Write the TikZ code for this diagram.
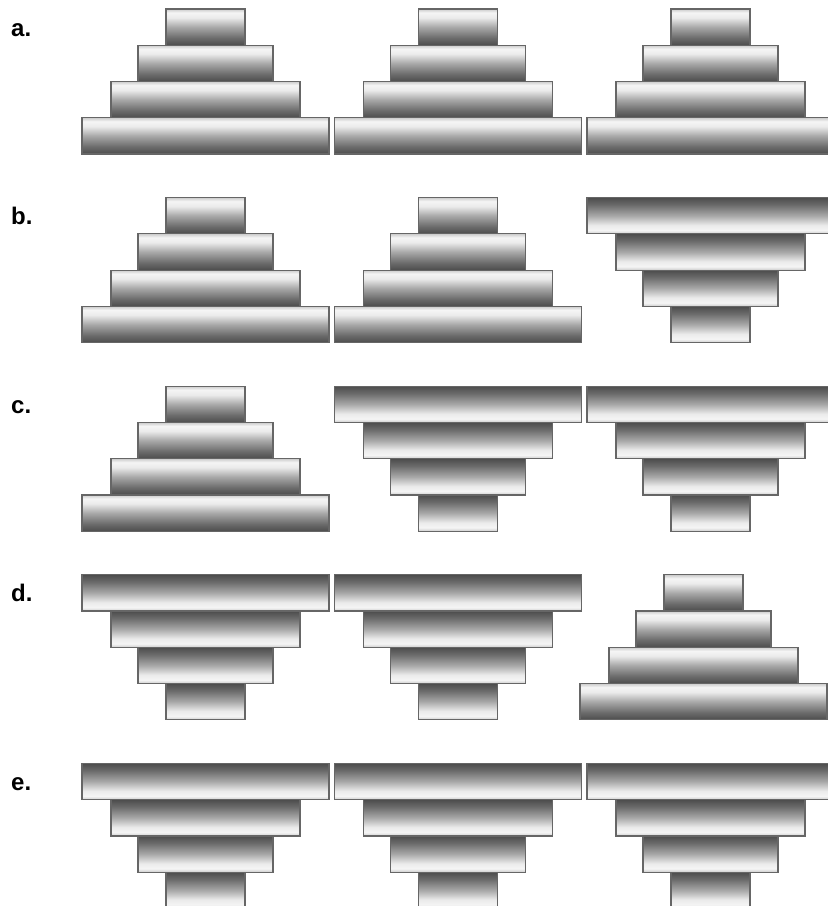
\documentclass[tikz,border=0pt]{standalone}
\usepackage{fontspec}
\setmainfont{Liberation Sans}
\definecolor{gA}{gray}{0.30}
\definecolor{gB}{gray}{0.42}
\definecolor{gC}{gray}{0.66}
\definecolor{gF}{gray}{0.92}
\definecolor{gD}{gray}{0.96}
\definecolor{gE}{gray}{0.80}
\definecolor{edgegray}{gray}{0.40}
\pgfdeclareverticalshading{barup}{100bp}{color(0bp)=(gA); color(25bp)=(gA); color(35bp)=(gB); color(50bp)=(gC); color(63bp)=(gF); color(70bp)=(gD); color(75bp)=(gE); color(100bp)=(gE)}
\pgfdeclareverticalshading{bardown}{100bp}{color(0bp)=(gE); color(25bp)=(gE); color(30bp)=(gD); color(37bp)=(gF); color(50bp)=(gC); color(65bp)=(gB); color(75bp)=(gA); color(100bp)=(gA)}
\tikzset{
  barbase/.style={rectangle, inner sep=0pt, outer sep=0pt, minimum height=36.25pt, draw=edgegray, line width=1.2pt},
  barupst/.style={barbase, shading=barup},
  bardownst/.style={barbase, shading=bardown},
  lbl/.style={inner sep=0pt, anchor=base west, font=\fontsize{24}{24}\selectfont\bfseries}
}
\newcommand{\pyrup}[3]{%
  \foreach \w [count=\k from 0] in {79,135,189,247}{%
    \node[barupst, minimum width=\w pt] (#1b\k) at (#2, {#3+36.25*\k+18.125}) {};
  }}
\newcommand{\pyrdown}[3]{%
  \foreach \w [count=\k from 0] in {247,189,135,79}{%
    \node[bardownst, minimum width=\w pt] (#1b\k) at (#2, {#3+36.25*\k+18.125}) {};
  }}
\begin{document}
\begin{tikzpicture}[x=1pt,y=-1pt]
\useasboundingbox (0,0) rectangle (828,906);
\clip (0,0) rectangle (828,906);
% labels
\node[lbl] (la) at (11,36) {a.};
\node[lbl] (lb) at (11,224.6) {b.};
\node[lbl] (lc) at (11,413.2) {c.};
\node[lbl] (ld) at (11,601.8) {d.};
\node[lbl] (le) at (11,790.4) {e.};
% row a
\pyrup{ra1}{205.5}{9}
\pyrup{ra2}{458}{9}
\pyrup{ra3}{710.5}{9}
% row b
\pyrup{rb1}{205.5}{197.6}
\pyrup{rb2}{458}{197.6}
\pyrdown{rb3}{710.5}{197.6}
% row c
\pyrup{rc1}{205.5}{386.2}
\pyrdown{rc2}{458}{386.2}
\pyrdown{rc3}{710.5}{386.2}
% row d
\pyrdown{rd1}{205.5}{574.8}
\pyrdown{rd2}{458}{574.8}
\pyrup{rd3}{703.5}{574.8}
% row e
\pyrdown{re1}{205.5}{763.4}
\pyrdown{re2}{458}{763.4}
\pyrdown{re3}{710.5}{763.4}
\end{tikzpicture}
\end{document}
